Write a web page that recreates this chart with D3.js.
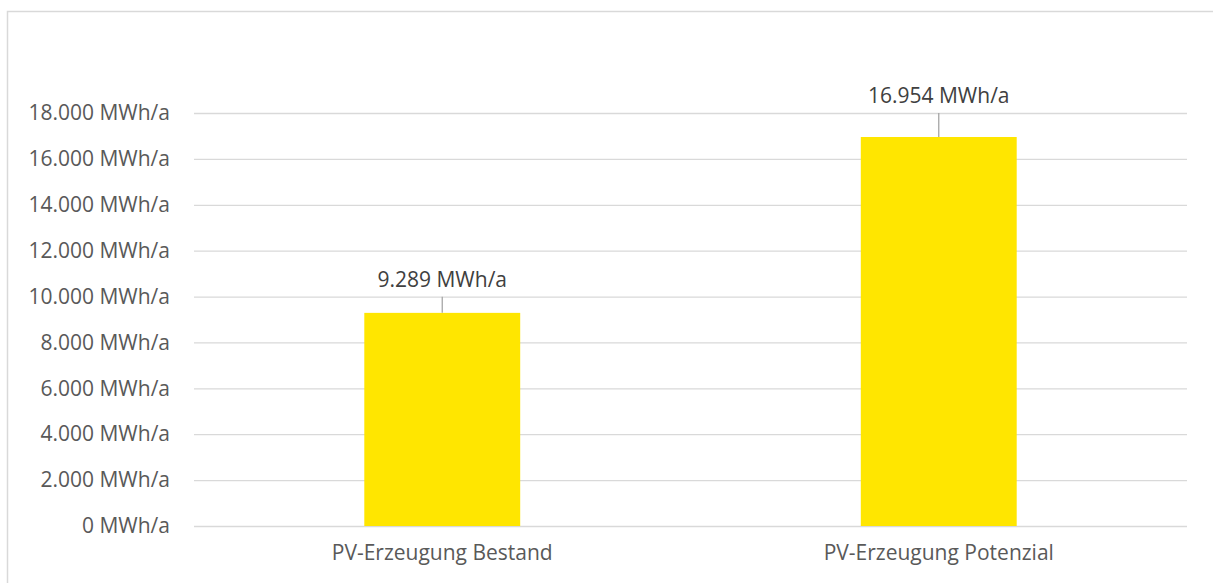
<!DOCTYPE html>
<html>
<head>
<meta charset="utf-8">
<script src="https://d3js.org/d3.v7.min.js"></script>
<style>
  body { margin: 0; background: #fff; font-family: "Open Sans", sans-serif; }
</style>
</head>
<body>
<div id="chart"></div>
<script>
// data
var categories = ["PV-Erzeugung Bestand", "PV-Erzeugung Potenzial"];
var values = [9289, 16954];
var yTicks = [0, 2000, 4000, 6000, 8000, 10000, 12000, 14000, 16000, 18000];
// how far the data labels were dragged above the bars (px)
var labelLift = [26, 34];

var W = 1213, H = 583;
var margin = {top: 113, right: 26, bottom: 57, left: 194};
var width = W - margin.left - margin.right,
    height = H - margin.top - margin.bottom;
var fontSize = 21;

var fmt = d3.formatLocale({decimal: ",", thousands: ".", grouping: [3], currency: ["", ""]}).format(",.0f");

var svg = d3.select("#chart").append("svg")
  .attr("width", W)
  .attr("height", H);

// chart border (only top and left visible)
svg.append("rect")
  .attr("x", 7.5).attr("y", 11.5)
  .attr("width", W + 10).attr("height", H + 10)
  .attr("fill", "none")
  .attr("stroke", "#d9d9d9")
  .attr("stroke-width", 1.5);

var g = svg.append("g")
  .attr("transform", "translate(" + margin.left + "," + margin.top + ")");

var x = d3.scaleBand()
  .domain(categories)
  .range([0, width])
  .paddingInner(0.686)
  .paddingOuter(0.343);

var y = d3.scaleLinear()
  .domain([0, 18000])
  .range([height, 0]);

// gridlines + y tick labels
var yAxis = g.append("g")
  .call(d3.axisLeft(y).tickValues(yTicks).tickSize(-width).tickPadding(24)
    .tickFormat(function(d) { return fmt(d) + " MWh/a"; }));
yAxis.select(".domain").remove();
yAxis.selectAll(".tick line").attr("stroke", "#d9d9d9").attr("stroke-width", 1.3);
yAxis.selectAll(".tick text")
  .attr("fill", "#595959")
  .attr("font-family", "Open Sans, sans-serif")
  .attr("font-size", fontSize);

// x labels
var xAxis = g.append("g")
  .attr("transform", "translate(0," + height + ")")
  .call(d3.axisBottom(x).tickSize(0).tickPadding(19));
xAxis.select(".domain").remove();
xAxis.selectAll(".tick text")
  .attr("fill", "#595959")
  .attr("font-family", "Open Sans, sans-serif")
  .attr("font-size", fontSize);

// bars
g.selectAll(".bar")
  .data(values)
  .enter().append("rect")
  .attr("class", "bar")
  .attr("x", function(d, i) { return x(categories[i]); })
  .attr("width", x.bandwidth())
  .attr("y", function(d) { return y(d); })
  .attr("height", function(d) { return height - y(d); })
  .attr("fill", "#ffe600");

// leader lines
g.selectAll(".leader")
  .data(values)
  .enter().append("line")
  .attr("class", "leader")
  .attr("x1", function(d, i) { return x(categories[i]) + x.bandwidth() / 2; })
  .attr("x2", function(d, i) { return x(categories[i]) + x.bandwidth() / 2; })
  .attr("y1", function(d) { return y(d); })
  .attr("y2", function(d, i) { return y(d) - labelLift[i] + 10; })
  .attr("stroke", "#a6a6a6")
  .attr("stroke-width", 1.3);

// data labels
g.selectAll(".label")
  .data(values)
  .enter().append("text")
  .attr("class", "label")
  .attr("x", function(d, i) { return x(categories[i]) + x.bandwidth() / 2; })
  .attr("y", function(d, i) { return y(d) - labelLift[i]; })
  .attr("text-anchor", "middle")
  .attr("fill", "#404040")
  .attr("font-size", fontSize)
  .text(function(d) { return fmt(d) + " MWh/a"; });
</script>
</body>
</html>
